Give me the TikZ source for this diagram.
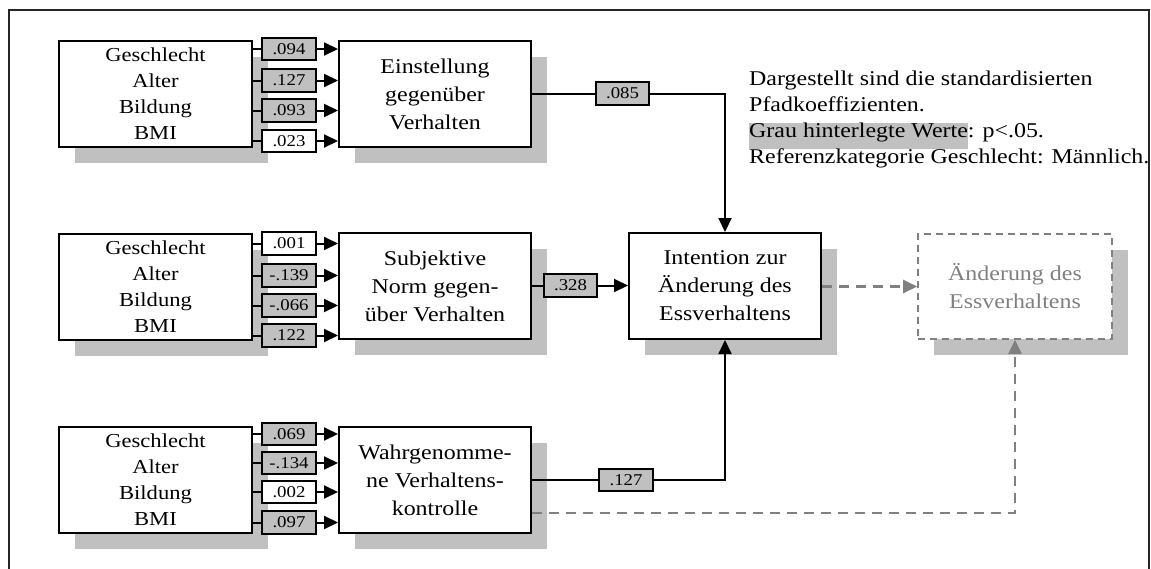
\documentclass[tikz,border=0pt]{standalone}
\usepackage{fontspec}
\setmainfont[FakeStretch=1.14]{Liberation Serif}
\usetikzlibrary{arrows.meta,shadows}
\definecolor{shade}{HTML}{C0C0C0}
\definecolor{dgray}{HTML}{808080}
\begin{document}
\begin{tikzpicture}[x=1pt,y=-1pt,
  shbox/.style={draw, line width=2pt, fill=white, align=center, inner sep=0pt,
    general shadow={fill=shade, shadow xshift=16pt, shadow yshift=-16pt}},
  leftbox/.style={shbox, minimum width=193pt, minimum height=106pt,
    font=\fontsize{19.8}{26}\selectfont},
  midbox/.style={shbox, minimum width=192pt, minimum height=106pt,
    font=\fontsize{21}{28}\selectfont},
  coef/.style={draw, line width=2pt, minimum width=54pt, minimum height=22.5pt,
    inner sep=0pt, font=\fontsize{16.5}{18}\selectfont},
  sig/.style={coef, fill=shade},
  nsig/.style={coef, fill=white},
  conn/.style={line width=2pt},
  arr/.style={conn, -{Triangle[length=14pt,width=13pt]}},
  dconn/.style={line width=2.3pt, dgray, dash pattern=on 10pt off 7pt},
  darr/.style={dconn, -{Triangle[length=14pt,width=13pt]}},
  note/.style={anchor=base west, inner sep=0pt, font=\fontsize{21}{26}\selectfont}
]
\useasboundingbox (0,0) rectangle (1151,568);
\draw[line width=1.5pt, black!85] (9,10) rectangle (1149,590);

% left boxes
\node[leftbox] (L1) at (155.5,94) {Geschlecht\\Alter\\Bildung\\BMI};
\node[leftbox] (L2) at (155.5,287) {Geschlecht\\Alter\\Bildung\\BMI};
\node[leftbox] (L3) at (155.5,480) {Geschlecht\\Alter\\Bildung\\BMI};

% middle boxes
\node[midbox] (M1) at (435,94) {Einstellung\\gegenüber\\Verhalten};
\node[midbox] (M2) at (435,286) {Subjektive\\Norm gegen-\\über Verhalten};
\node[midbox] (M3) at (435,480) {Wahrgenomme-\\ne Verhaltens-\\kontrolle};

% intention and behaviour
\node[midbox] (I) at (725,286) {Intention zur\\Änderung des\\Essverhaltens};
\node[midbox, minimum width=194pt, minimum height=105pt, draw=dgray, text=dgray,
  line width=1.6pt, dash pattern=on 7pt off 5pt] (A) at (1015,286.5) {Änderung des\\Essverhaltens};

% coefficient boxes
\node[sig]  (c11) at (289,49)    {.094};
\node[sig]  (c12) at (289,80.5)  {.127};
\node[sig]  (c13) at (289,110.5) {.093};
\node[nsig] (c14) at (289,141)   {.023};
\node[nsig] (c21) at (289,243.5) {.001};
\node[sig]  (c22) at (289,275.5) {-.139};
\node[sig]  (c23) at (289,305.5) {-.066};
\node[sig]  (c24) at (289,335.5) {.122};
\node[sig]  (c31) at (289,434)   {.069};
\node[sig]  (c32) at (289,463)   {-.134};
\node[nsig] (c33) at (289,492)   {.002};
\node[sig]  (c34) at (289,522.5) {.097};

\node[sig, minimum width=53pt] (k1) at (622.5,93.5) {.085};
\node[sig, minimum width=53pt] (k2) at (570.5,285.5) {.328};
\node[sig] (k3) at (626,480) {.127};

% connectors from left boxes
\foreach \r in {1,2,3}{
  \foreach \c in {1,2,3,4}{
    \draw[conn] (L\r.east |- c\r\c) -- (c\r\c.west);
    \draw[arr] (c\r\c.east) -- (M\r.west |- c\r\c);
  }
}

% connectors to intention
\draw[conn] (M1.east |- k1) -- (k1.west);
\draw[arr] (k1.east) -| (I.north);
\draw[conn] (M2.east |- k2) -- (k2.west);
\draw[arr] (k2.east) -- (I.west |- k2);
\draw[conn] (M3.east |- k3) -- (k3.west);
\draw[arr] (k3.east) -| (I.south);

% dashed connectors
\draw[darr] (I.east |- A.west) -- (A.west);
\coordinate (dy) at (0,513);
\draw[darr] (M3.east |- dy) -| (A.south);

% notes
\node[note] (n1) at (749,85.7) {Dargestellt sind die standardisierten};
\node[note] (n2) at (749,111.7) {Pfadkoeffizienten.};
\node[note] (n3) at (749,137.7) {\setlength{\fboxsep}{0pt}\colorbox{shade}{\rule[-11pt]{0pt}{26pt}Grau hinterlegte Werte}: p<.05.};
\node[note] (n4) at (749,163.7) {Referenzkategorie Geschlecht: Männlich.};
\end{tikzpicture}
\end{document}
